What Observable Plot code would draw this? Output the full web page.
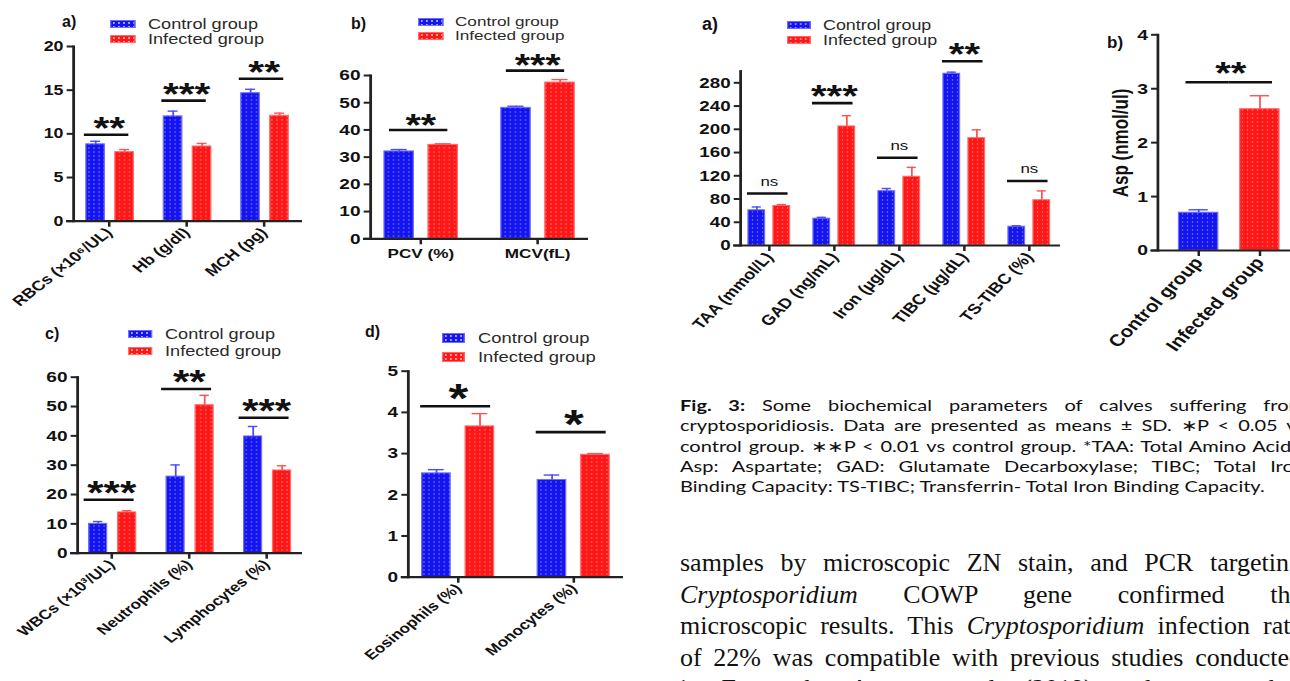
<!DOCTYPE html>
<html><head><meta charset="utf-8">
<script src="https://cdn.jsdelivr.net/npm/d3@7"></script>
<script src="https://cdn.jsdelivr.net/npm/@observablehq/plot@0.6"></script>
<style>
html,body{margin:0;padding:0;background:#fff;}
#page{position:relative;width:1290px;height:681px;overflow:hidden;background:#fff;font-family:"Liberation Sans",Arial,sans-serif;}
.panel{position:absolute;transform-origin:0 0;}
.panel svg{overflow:visible;}
.plab{position:absolute;font-weight:bold;color:#111;line-height:1;}
.leg{position:absolute;transform-origin:0 0;color:#2a2a2a;}
.cap{position:absolute;left:680px;top:395px;width:500px;transform:scaleX(1.25);transform-origin:0 0;font-family:Lato,"Open Sans",sans-serif;font-size:16px;line-height:20.3px;color:#111;}
.body{position:absolute;left:680px;top:547px;width:622px;font-family:"Liberation Serif","Times New Roman",serif;font-size:26px;line-height:31.5px;color:#111;}
.j{text-align:justify;text-align-last:justify;}
</style>
</head><body>
<svg width="0" height="0" style="position:absolute">
  <defs>
    <pattern id="dotsBlue" patternUnits="userSpaceOnUse" width="4" height="4">
      <rect width="4" height="4" fill="#1414f0"/><rect x="1.5" y="1.5" width="1" height="1" fill="#a0a4ff"/>
    </pattern>
    <pattern id="dotsRed" patternUnits="userSpaceOnUse" width="4" height="4">
      <rect width="4" height="4" fill="#ff1616"/><rect x="1.5" y="1.5" width="1" height="1" fill="#ffa0a0"/>
    </pattern>
  </defs>
</svg>
<div id="page">
  <div class="plab" style="left:62px;top:14px;font-size:16px">a)</div>
  <div class="plab" style="left:351px;top:16px;font-size:16px">b)</div>
  <div class="plab" style="left:45px;top:326px;font-size:16px">c)</div>
  <div class="plab" style="left:365px;top:324px;font-size:16px">d)</div>
  <div class="plab" style="left:702px;top:15px;font-size:18px">a)</div>
  <div class="plab" style="left:1107px;top:34px;font-size:17px">b)</div>
  <div class="cap">
    <div class="j"><b>Fig. 3:</b> Some biochemical parameters of calves suffering from</div>
    <div class="j">cryptosporidiosis. Data are presented as means ± SD. ∗P &lt; 0.05 vs</div>
    <div class="j">control group. ∗∗P &lt; 0.01 vs control group. *TAA: Total Amino Acids;</div>
    <div class="j">Asp: Aspartate; GAD: Glutamate Decarboxylase; TIBC; Total Iron</div>
    <div>Binding Capacity: TS-TIBC; Transferrin- Total Iron Binding Capacity.</div>
  </div>
  <div class="body">
    <div class="j">samples by microscopic ZN stain, and PCR targeting</div>
    <div class="j"><i>Cryptosporidium</i> COWP gene confirmed the</div>
    <div class="j">microscopic results. This <i>Cryptosporidium</i> infection rate</div>
    <div class="j">of 22% was compatible with previous studies conducted</div>
    <div class="j">in Egypt by Ayana et al. (2019) and some other</div>
  </div>
</div>
<script>
// ---------------- DATA ----------------
const legendLabels = ["Control group", "Infected group"];

// Left a) red cell indices
const rbcCats = ["RBCs (×10⁶/UL)", "Hb (g/dl)", "MCH (pg)"];
const rbcCtrl = [8.8, 12.0, 14.65];
const rbcCtrlSD = [0.35, 0.6, 0.45];
const rbcInf = [7.9, 8.55, 12.07];
const rbcInfSD = [0.3, 0.35, 0.3];
const rbcSigY = [9.9, 13.8, 16.3];
const rbcSig = ["**", "***", "**"];

// Left b) PCV / MCV
const pcvCats = ["PCV (%)", "MCV(fL)"];
const pcvCtrl = [32.1, 48.1];
const pcvCtrlSD = [0.7, 0.6];
const pcvInf = [34.5, 57.4];
const pcvInfSD = [0.4, 1.1];
const pcvSigY = [40.0, 61.8];
const pcvSig = ["**", "***"];

// Left c) white cells
const wbcCats = ["WBCs (×10³/UL)", "Neutrophils (%)", "Lymphocytes (%)"];
const wbcCtrl = [10.0, 26.1, 39.8];
const wbcCtrlSD = [0.8, 4.0, 3.4];
const wbcInf = [13.9, 50.45, 28.2];
const wbcInfSD = [0.6, 3.35, 1.6];
const wbcSigY = [18.2, 56.0, 46.2];
const wbcSig = ["***", "**", "***"];

// Left d) eosinophils / monocytes
const eosCats = ["Eosinophils (%)", "Monocytes (%)"];
const eosCtrl = [2.52, 2.36];
const eosCtrlSD = [0.09, 0.12];
const eosInf = [3.66, 2.97];
const eosInfSD = [0.31, 0.03];
const eosSigY = [4.15, 3.52];
const eosSig = ["*", "*"];

// Right a) biochemical parameters
const bioCats = ["TAA (mmol/L)", "GAD (ng/mL)", "Iron (µg/dL)", "TIBC (µg/dL)", "TS-TIBC (%)"];
const bioCtrl = [60.6, 46.2, 93.5, 295.6, 32.3];
const bioCtrlSD = [5.7, 2.3, 4.6, 2.8, 1.7];
const bioInf = [68.0, 204.9, 118.3, 184.7, 77.9];
const bioInfSD = [2.5, 18.5, 16.2, 14.4, 16.1];
const bioSigY = [89.5, 245, 151, 317, 111];
const bioSig = ["ns", "***", "ns", "**", "ns"];

// Right b) aspartate
const aspGroups = ["Control group", "Infected group"];
const aspValues = [0.70, 2.62];
const aspSD = [0.055, 0.25];
const aspSigY = 3.12;
const aspSig = "**";

// ---------------- STYLE ----------------
const BLUE_EDGE = "#6d6dff", RED_EDGE = "#ff6a6a";
const BLUE_ERR = "#4b4bff", RED_ERR = "#ff5252";
const FONT = "'Liberation Sans', Arial, sans-serif";
const page = document.getElementById("page");
const intFmt = d => String(d);

function place(svg, cfg) {
  const d = document.createElement("div");
  d.className = "panel";
  d.style.left = cfg.left + "px";
  d.style.top = cfg.top + "px";
  d.style.transform = `scaleX(${cfg.s})`;
  d.append(svg);
  page.append(d);
}

function groupedPanel(cfg, cats, ctrl, ctrlSD, inf, infSD, sigY, sig) {
  const s = cfg.s;
  const rows = cats.map((c, i) => ({
    cat: c, ctrl: ctrl[i], ctrlHi: ctrl[i] + ctrlSD[i],
    inf: inf[i], infHi: inf[i] + infSD[i], sigY: sigY[i], sig: sig[i]
  }));
  const n = cats.length;
  const half = cfg.step / 2, bw = cfg.bw, gap = cfg.gap, off = cfg.off, capW = cfg.bw * 0.55;
  const c0 = cfg.c0 - cfg.left;
  const xr = [(c0 - half) / s, (c0 + (n - 0.5) * cfg.step) / s];
  const ctrlDx = off - gap / 2 - bw / 2, infDx = off + gap / 2 + bw / 2;
  const isStar = t => t !== "ns";
  const starRows = rows.filter(r => isStar(r.sig));
  const nsRows = rows.filter(r => !isStar(r.sig));
  const k = v => v / s;
  const svg = Plot.plot({
    width: cfg.width / s, height: cfg.height,
    marginLeft: (cfg.axisLeft - cfg.left) / s,
    marginRight: (cfg.left + cfg.width - cfg.axisRight) / s,
    marginTop: cfg.axisTop - cfg.top,
    marginBottom: cfg.top + cfg.height - cfg.axisBottom,
    x: {type: "band", domain: cats, range: xr, padding: 0, label: null},
    y: {domain: [0, cfg.yMax], label: null},
    style: {fontFamily: FONT, fontWeight: "bold", color: "#111", background: "transparent", overflow: "visible", maxWidth: "none"},
    marks: [
      Plot.barY(rows, {x: "cat", y: "ctrl", fill: "url(#dotsBlue)", stroke: BLUE_EDGE, strokeWidth: 1,
        insetLeft: k(half + off - gap / 2 - bw), insetRight: k(half - off + gap / 2)}),
      Plot.barY(rows, {x: "cat", y: "inf", fill: "url(#dotsRed)", stroke: RED_EDGE, strokeWidth: 1,
        insetLeft: k(half + off + gap / 2), insetRight: k(half - off - gap / 2 - bw)}),
      Plot.ruleX(rows, {x: "cat", y1: "ctrl", y2: "ctrlHi", dx: k(ctrlDx), stroke: BLUE_ERR, strokeWidth: 1.4}),
      Plot.tickY(rows, {x: "cat", y: "ctrlHi", stroke: BLUE_ERR, strokeWidth: 1.4,
        insetLeft: k(half + ctrlDx - capW / 2), insetRight: k(half - ctrlDx - capW / 2)}),
      Plot.ruleX(rows, {x: "cat", y1: "inf", y2: "infHi", dx: k(infDx), stroke: RED_ERR, strokeWidth: 1.4}),
      Plot.tickY(rows, {x: "cat", y: "infHi", stroke: RED_ERR, strokeWidth: 1.4,
        insetLeft: k(half + infDx - capW / 2), insetRight: k(half - infDx - capW / 2)}),
      Plot.tickY(rows, {x: "cat", y: "sigY", stroke: "#111", strokeWidth: 2.6,
        insetLeft: k(half + off - gap / 2 - bw + cfg.sigL), insetRight: k(half - off - gap / 2 - bw - cfg.sigR)}),
      Plot.text(starRows, {x: "cat", y: "sigY", text: "sig", fontSize: cfg.starFont, fontWeight: "bold", fill: "#111",
        dy: -(cfg.starLift - 0.24 * cfg.starFont)}),
      Plot.text(nsRows, {x: "cat", y: "sigY", text: "sig", fontSize: cfg.nsFont || 13, fontWeight: "normal", fill: "#111",
        dy: -(cfg.nsLift || 12)}),
      Plot.ruleY([0], {stroke: "#222", strokeWidth: 2.2, insetLeft: k(-7)}),
      Plot.frame({anchor: "left", stroke: "#222", strokeWidth: 2.2}),
      Plot.axisY({ticks: cfg.yTicks, tickFormat: intFmt, tickSize: 5, tickPadding: 3, fontSize: cfg.yFont, fontWeight: "bold", strokeWidth: 2, stroke: "#222", fill: "#111"}),
      Plot.axisX({tickSize: 6, tickPadding: cfg.rotate ? 3 : 4, tickRotate: cfg.rotate, fontSize: cfg.xFont, fontWeight: "bold", strokeWidth: 2, stroke: "#222", fill: "#111"})
    ]
  });
  place(svg, cfg);
}

function legend(x, cys, s, fs, swW, swH, textX) {
  const d = document.createElement("div");
  d.className = "leg";
  d.style.left = x + "px";
  d.style.top = "0px";
  d.style.transform = `scaleX(${s})`;
  const fills = [
    "radial-gradient(circle, rgba(175,180,255,0.95) 0 0.7px, transparent 1px) 0 0/4px 4px, #1414f0",
    "radial-gradient(circle, rgba(255,175,175,0.95) 0 0.7px, transparent 1px) 0 0/4px 4px, #ff1616"
  ];
  const edges = [BLUE_EDGE, RED_EDGE];
  legendLabels.forEach((lab, i) => {
    const r = document.createElement("div");
    r.style.cssText = `position:absolute;left:0;top:${cys[i] - 10}px;height:20px;display:flex;align-items:center;white-space:nowrap;font-size:${fs}px;line-height:1;`;
    const sw = document.createElement("span");
    sw.style.cssText = `display:inline-block;box-sizing:border-box;width:${swW / s}px;height:${swH}px;margin-right:${(textX - x - swW) / s}px;background:${fills[i]};border:1px solid ${edges[i]};`;
    r.append(sw, document.createTextNode(lab));
    d.append(r);
  });
  page.append(d);
}

// ---------------- PANELS ----------------
const SL = 1.27, SR = 1.25;

groupedPanel({s: SL, left: 0, top: 30, width: 310, height: 270, axisLeft: 73, axisTop: 46, axisBottom: 220.7, axisRight: 302,
  c0: 108, step: 78, bw: 19, gap: 10, off: 1, sigL: -2, sigR: -5, yMax: 20, yTicks: [0, 5, 10, 15, 20],
  yFont: 14, xFont: 14, rotate: -45, starFont: 32, starLift: 14},
  rbcCats, rbcCtrl, rbcCtrlSD, rbcInf, rbcInfSD, rbcSigY, rbcSig);

groupedPanel({s: SL, left: 330, top: 30, width: 280, height: 250, axisLeft: 370, axisTop: 75, axisBottom: 238.3, axisRight: 588,
  c0: 420, step: 117, bw: 29.5, gap: 14.5, off: 0.5, sigL: 5, sigR: -10, yMax: 60, yTicks: [0, 10, 20, 30, 40, 50, 60],
  yFont: 15, xFont: 13.5, rotate: 0, starFont: 31, starLift: 11.5},
  pcvCats, pcvCtrl, pcvCtrlSD, pcvInf, pcvInfSD, pcvSigY, pcvSig);

groupedPanel({s: SL, left: 0, top: 360, width: 310, height: 321, axisLeft: 77, axisTop: 376.7, axisBottom: 552.7, axisRight: 302,
  c0: 110, step: 78.5, bw: 19, gap: 10, off: 1, sigL: -5, sigR: -2, yMax: 60, yTicks: [0, 10, 20, 30, 40, 50, 60],
  yFont: 15, xFont: 13.5, rotate: -45, starFont: 33, starLift: 14},
  wbcCats, wbcCtrl, wbcCtrlSD, wbcInf, wbcInfSD, wbcSigY, wbcSig);

groupedPanel({s: SL, left: 330, top: 360, width: 300, height: 321, axisLeft: 407.7, axisTop: 370.7, axisBottom: 576.7, axisRight: 623,
  c0: 457.7, step: 115.6, bw: 28.5, gap: 15, off: 0, sigL: -1.5, sigR: -3.5, yMax: 5, yTicks: [0, 1, 2, 3, 4, 5],
  yFont: 15, xFont: 13.5, rotate: -45, starFont: 40, starLift: 17},
  eosCats, eosCtrl, eosCtrlSD, eosInf, eosInfSD, eosSigY, eosSig);

groupedPanel({s: SR, left: 680, top: 30, width: 390, height: 310, axisLeft: 740, axisTop: 70.7, axisBottom: 245, axisRight: 1060,
  c0: 768.3, step: 65, bw: 16.6, gap: 8.4, off: 0, sigL: -1, sigR: -2, yMax: 300, yTicks: [0, 40, 80, 120, 160, 200, 240, 280],
  yFont: 15, xFont: 14.5, rotate: -51.3, starFont: 32, starLift: 14, nsFont: 13.5, nsLift: 12},
  bioCats, bioCtrl, bioCtrlSD, bioInf, bioInfSD, bioSigY, bioSig);

// Right b) single-series Asp chart
(function () {
  const cfg = {s: SR, left: 1070, top: 20, width: 240, height: 350, axisLeft: 1157.3, axisTop: 34.3, axisBottom: 250, axisRight: 1300,
    c0: 1197.3, step: 62, bw: 40};
  const s = cfg.s, k = v => v / s;
  const rows = aspGroups.map((g, i) => ({g, v: aspValues[i], hi: aspValues[i] + aspSD[i]}));
  const half = cfg.step / 2, bw = cfg.bw, capW = bw * 0.5;
  const c0 = cfg.c0 - cfg.left;
  const xr = [(c0 - half) / s, (c0 + 1.5 * cfg.step) / s];
  const edge = d => d.g === aspGroups[0] ? BLUE_EDGE : RED_EDGE;
  const err = d => d.g === aspGroups[0] ? BLUE_ERR : RED_ERR;
  const svg = Plot.plot({
    width: cfg.width / s, height: cfg.height,
    marginLeft: (cfg.axisLeft - cfg.left) / s,
    marginRight: (cfg.left + cfg.width - cfg.axisRight) / s,
    marginTop: cfg.axisTop - cfg.top,
    marginBottom: cfg.top + cfg.height - cfg.axisBottom,
    x: {type: "band", domain: aspGroups, range: xr, padding: 0, label: null},
    y: {domain: [0, 4], label: null},
    color: {domain: aspGroups, range: ["url(#dotsBlue)", "url(#dotsRed)"]},
    style: {fontFamily: FONT, fontWeight: "bold", color: "#111", background: "transparent", overflow: "visible", maxWidth: "none"},
    marks: [
      Plot.barY(rows, {x: "g", y: "v", fill: "g", stroke: edge, strokeWidth: 1,
        insetLeft: k(half - bw / 2), insetRight: k(half - bw / 2)}),
      Plot.ruleX(rows, {x: "g", y1: "v", y2: "hi", stroke: err, strokeWidth: 1.4}),
      Plot.tickY(rows, {x: "g", y: "hi", stroke: err, strokeWidth: 1.4,
        insetLeft: k(half - capW / 2), insetRight: k(half - capW / 2)}),
      // significance bar spanning both groups: one half in each band
      Plot.tickY([aspSigY], {x: () => aspGroups[0], y: d => d, stroke: "#111", strokeWidth: 2.6, insetLeft: k(18), insetRight: 0}),
      Plot.tickY([aspSigY], {x: () => aspGroups[1], y: d => d, stroke: "#111", strokeWidth: 2.6, insetLeft: 0, insetRight: k(18)}),
      Plot.text([aspSig], {x: () => aspGroups[0], y: () => aspSigY, text: d => d, dx: k(half + 1), fontSize: 32, fontWeight: "bold", fill: "#111",
        dy: -(16.5 - 0.24 * 32)}),
      Plot.ruleY([0], {stroke: "#222", strokeWidth: 2.2, insetLeft: k(-7)}),
      Plot.frame({anchor: "left", stroke: "#222", strokeWidth: 2.2}),
      Plot.axisY({ticks: [0, 1, 2, 3, 4], tickFormat: intFmt, tickSize: 5, tickPadding: 3, fontSize: 15.5, fontWeight: "bold", strokeWidth: 2, stroke: "#222", fill: "#111"}),
      Plot.axisX({tickSize: 6, tickPadding: 3, tickRotate: -51.3, fontSize: 16.5, fontWeight: "bold", strokeWidth: 2, stroke: "#222", fill: "#111"})
    ]
  });
  place(svg, cfg);
  const t = document.createElement("div");
  t.textContent = "Asp (nmol/ul)";
  t.style.cssText = `position:absolute;left:1121.7px;top:143px;font-weight:bold;font-size:17px;color:#111;white-space:nowrap;transform:translate(-50%,-50%) scaleX(${SR}) rotate(-90deg);`;
  page.append(t);
})();

// Legends
legend(110, [24, 39], SL, 14.3, 25, 8, 148);
legend(418, [21.5, 35.5], SL, 13.5, 25, 8, 455);
legend(128, [334, 351], SL, 14.3, 24, 8.5, 165);
legend(442, [338, 357], SL, 14.5, 23, 9.5, 478);
legend(787, [25, 40], SR, 14.3, 24, 8.5, 823);
</script>
</body></html>
